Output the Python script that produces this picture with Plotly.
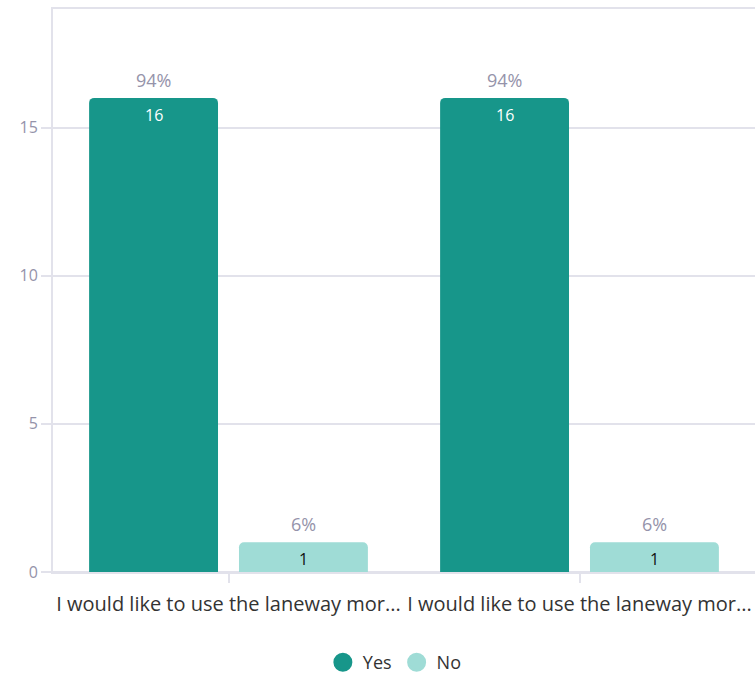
import plotly.graph_objects as go

categories = ["I would like to use the laneway mor...", "I would like to use the laneway mor..."]
series_names = ["Yes", "No"]
yes_values = [16, 16]
no_values = [1, 1]
y_ticks = [0, 5, 10, 15]

colors = {"Yes": "#17968a", "No": "#9fdcd6"}
inner_text_colors = {"Yes": "#ffffff", "No": "#111111"}
FONT = "'Open Sans', 'Noto Sans', sans-serif"
GRID = "#e2e2eb"
TICKC = "#9593aa"

x_pos = list(range(len(categories)))
BARGAP = 0.146
BARGROUPGAP = 0.14

fig = go.Figure()
values = {"Yes": yes_values, "No": no_values}
for name in series_names:
    fig.add_trace(go.Bar(
        x=x_pos, y=values[name], name=name,
        marker=dict(color=colors[name], line=dict(width=0)),
        showlegend=False, hoverinfo="skip",
    ))
# legend entries with round markers
for name in series_names:
    fig.add_trace(go.Scatter(
        x=[None], y=[None], mode="markers", name=name,
        marker=dict(color=colors[name], size=20, symbol="circle",
                    line=dict(color=colors[name], width=3)),
    ))

slot = (1 - BARGAP) / len(series_names)
offsets = [-(slot / 2), slot / 2]
annotations = []
for si, name in enumerate(series_names):
    for ci in x_pos:
        total = yes_values[ci] + no_values[ci]
        v = values[name][ci]
        pct = round(100 * v / total)
        xx = ci + offsets[si]
        annotations.append(dict(
            x=xx, y=v, xref="x", yref="y", text=f"{pct}%", showarrow=False,
            yanchor="bottom", yshift=4, font=dict(family=FONT, size=18, color=TICKC)))
        annotations.append(dict(
            x=xx, y=v, xref="x", yref="y", text=str(v), showarrow=False,
            yanchor="top", yshift=-4, font=dict(family=FONT, size=16, color=inner_text_colors[name])))

fig.update_layout(
    width=755, height=681,
    margin=dict(l=53, r=0, t=9, b=109),
    paper_bgcolor="white", plot_bgcolor="white",
    barmode="group", bargap=BARGAP, bargroupgap=BARGROUPGAP,
    barcornerradius=5,
    font=dict(family=FONT, color=TICKC),
    annotations=annotations,
    legend=dict(orientation="h", xref="paper", x=0.487, xanchor="center",
                yref="container", y=0.0, yanchor="bottom",
                font=dict(family=FONT, size=18, color="#333333"),
                itemsizing="trace"),
    xaxis=dict(
        range=[-0.5, len(categories) - 0.5],
        tickvals=x_pos, ticktext=categories,
        tickfont=dict(family=FONT, size=20, color="#333333"),
        ticklabelstandoff=4,
        showgrid=False, zeroline=False,
        showline=True, linecolor=GRID, linewidth=2, mirror=True,
        ticks="outside", ticklen=9, tickwidth=2, tickcolor=GRID,
    ),
    yaxis=dict(
        range=[0, 19], tickvals=y_ticks,
        tickfont=dict(family=FONT, size=16, color=TICKC),
        showgrid=True, gridcolor=GRID, gridwidth=2,
        zeroline=True, zerolinecolor=GRID, zerolinewidth=2,
        showline=True, linecolor=GRID, linewidth=2,
        ticks="outside", ticklen=10, tickwidth=2, tickcolor=GRID,
    ),
)

fig.write_html("out.html", config={"displayModeBar": False},
               post_script="document.body.style.margin='0';")
